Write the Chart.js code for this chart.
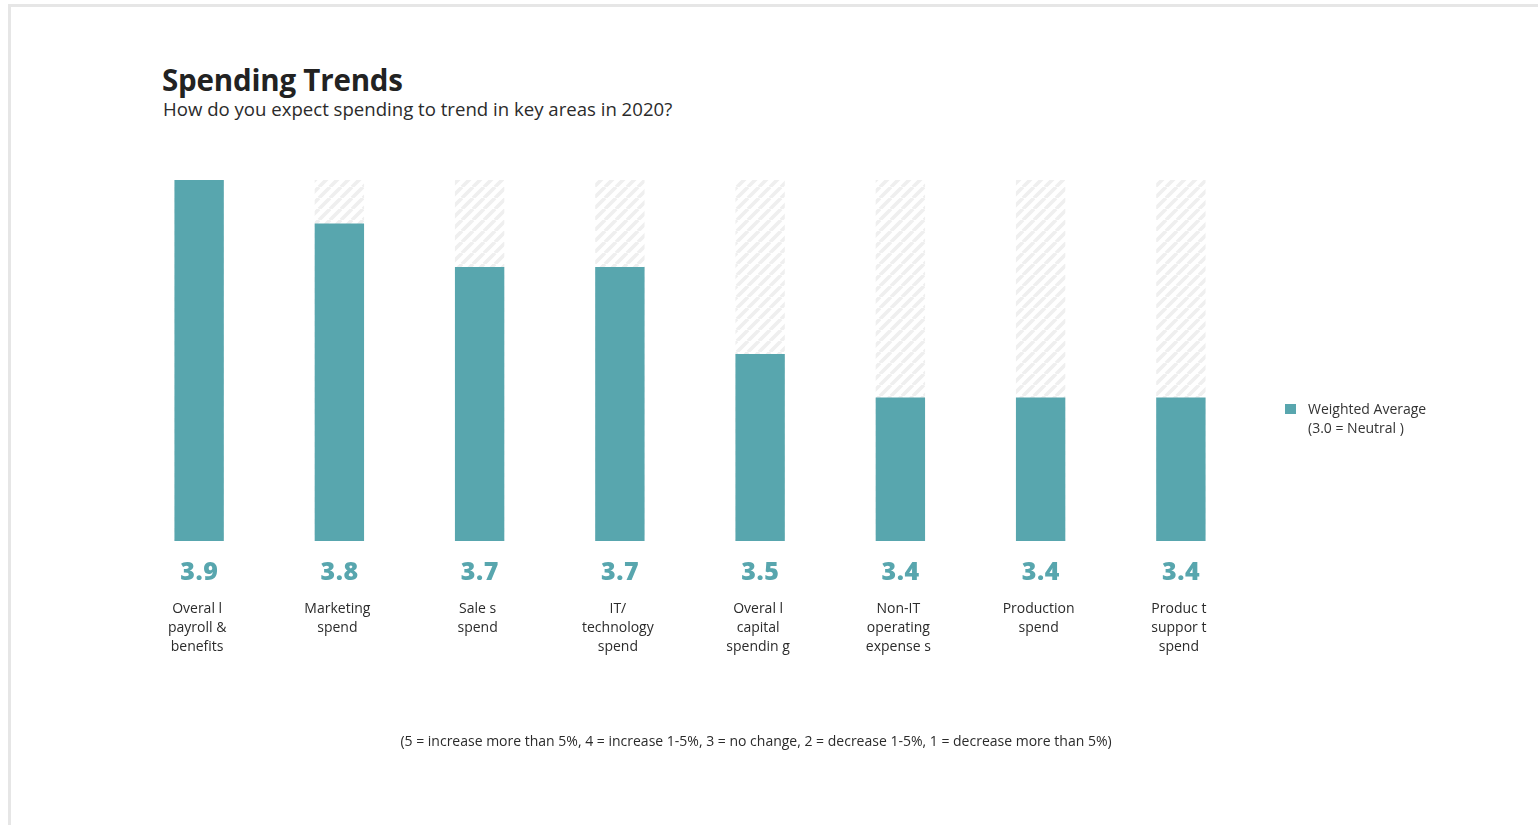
<!DOCTYPE html>
<html>
<head>
<meta charset="utf-8">
<title>Spending Trends</title>
<script src="https://cdn.jsdelivr.net/npm/chart.js@4.4.1/dist/chart.umd.min.js"></script>
<style>
    body { margin: 0; background: #fff; }
    #page { position: relative; width: 1538px; height: 825px; overflow: hidden; font-family: 'Open Sans', sans-serif; color: #2b2b2b; }
    .frame { position: absolute; left: 8px; top: 4px; right: -10px; bottom: -10px; border-top: 3px solid #e6e6e6; border-left: 3px solid #e6e6e6; }
    #trend-chart { position: absolute; left: 0; top: 0; }
    .title { position: absolute; left: 162px; top: 61px; margin: 0; font: 700 29.5px/38px 'Open Sans', sans-serif; color: #222; letter-spacing: -0.2px; }
    .subtitle { position: absolute; left: 163px; top: 97px; margin: 0; font: 400 18.6px/24px 'Open Sans', sans-serif; color: #2b2b2b; }
    .legend { position: absolute; left: 1285px; top: 399px; font: 400 14px/19px 'Open Sans', sans-serif; color: #333; }
    .legend .swatch { position: absolute; left: 0; top: 5px; width: 11px; height: 10px; background: #58a6ae; }
    .legend .text { margin-left: 23px; white-space: nowrap; }
    .footnote { position: absolute; left: 0; width: 1512px; top: 731px; text-align: center; font: 400 14px/19px 'Open Sans', sans-serif; color: #2b2b2b; }
</style>
</head>
<body>
<div id="page">
    <div class="frame"></div>
    <h1 class="title">Spending Trends</h1>
    <p class="subtitle">How do you expect spending to trend in key areas in 2020?</p>
    <canvas id="trend-chart" width="1538" height="825"></canvas>
    <div class="legend">
        <span class="swatch"></span>
        <div class="text">Weighted Average<br>(3.0 = Neutral )</div>
    </div>
    <div class="footnote">(5 = increase more than 5%, 4 = increase 1-5%, 3 = no change, 2 = decrease 1-5%, 1 = decrease more than 5%)</div>
</div>
<script>
'use strict';

// categorias (quebras de linha como no relatório)
const categories = [
    ['Overal l', 'payroll &', 'benefits'],
    ['Marketing', 'spend'],
    ['Sale s', 'spend'],
    ['IT/', 'technology', 'spend'],
    ['Overal l', 'capital', 'spendin g'],
    ['Non-IT', 'operating', 'expense s'],
    ['Production', 'spend'],
    ['Produc t', 'suppor t', 'spend']
];
const weightedAverage = [3.9, 3.8, 3.7, 3.7, 3.5, 3.4, 3.4, 3.4];
// faixa tracejada atrás de cada barra
const trackValues = [3.9, 3.9, 3.9, 3.9, 3.9, 3.9, 3.9, 3.9];

const SCALE_MIN = 3.07;
const SCALE_MAX = 3.9;
const TEAL = '#58a6ae';

function makeStripePattern() {
    const size = 11;
    const tile = document.createElement('canvas');
    tile.width = size;
    tile.height = size;
    const c = tile.getContext('2d');
    c.fillStyle = '#ffffff';
    c.fillRect(0, 0, size, size);
    c.strokeStyle = '#efefef';
    c.lineWidth = 3.6;
    c.beginPath();
    for (let k = -1; k <= 1; k++) {
        c.moveTo(k * size, size);
        c.lineTo(k * size + size, 0);
    }
    c.stroke();
    return c.createPattern(tile, 'repeat');
}

// valores em destaque por baixo de cada barra
const valueLabels = {
    id: 'valueLabels',
    afterDatasetsDraw(chart) {
        const { ctx, chartArea } = chart;
        const meta = chart.getDatasetMeta(1);
        ctx.save();
        ctx.font = "800 25px 'Open Sans', sans-serif";
        ctx.letterSpacing = '0.5px';
        ctx.fillStyle = TEAL;
        ctx.textAlign = 'center';
        ctx.textBaseline = 'middle';
        meta.data.forEach((bar, i) => {
            ctx.fillText(weightedAverage[i].toFixed(1), bar.x + 0.25, chartArea.bottom + 32);
        });
        ctx.restore();
    }
};

const ctx = document.getElementById('trend-chart').getContext('2d');
const stripes = makeStripePattern();

new Chart(ctx, {
    type: 'bar',
    data: {
        labels: categories,
        datasets: [
            { data: trackValues, backgroundColor: stripes, grouped: false, order: 2, barPercentage: 0.352, categoryPercentage: 1 },
            { label: 'Weighted Average (3.0 = Neutral)', data: weightedAverage, backgroundColor: TEAL, grouped: false, order: 1, barPercentage: 0.352, categoryPercentage: 1 }
        ]
    },
    options: {
        responsive: false,
        animation: false,
        layout: { padding: { left: 129, right: 287, top: 180, bottom: 134 } },
        plugins: { legend: { display: false }, tooltip: { enabled: false } },
        scales: {
            y: { display: false, min: SCALE_MIN, max: SCALE_MAX },
            x: {
                grid: { display: false, drawTicks: false },
                border: { display: false },
                ticks: {
                    padding: 59,
                    labelOffset: -2,
                    maxRotation: 0,
                    autoSkip: false,
                    color: '#2b2b2b',
                    font: { family: "'Open Sans', sans-serif", size: 14, lineHeight: 19 / 14 }
                },
                afterFit: (scale) => { scale.height = 150; }
            }
        }
    },
    plugins: [valueLabels]
});
</script>
</body>
</html>
